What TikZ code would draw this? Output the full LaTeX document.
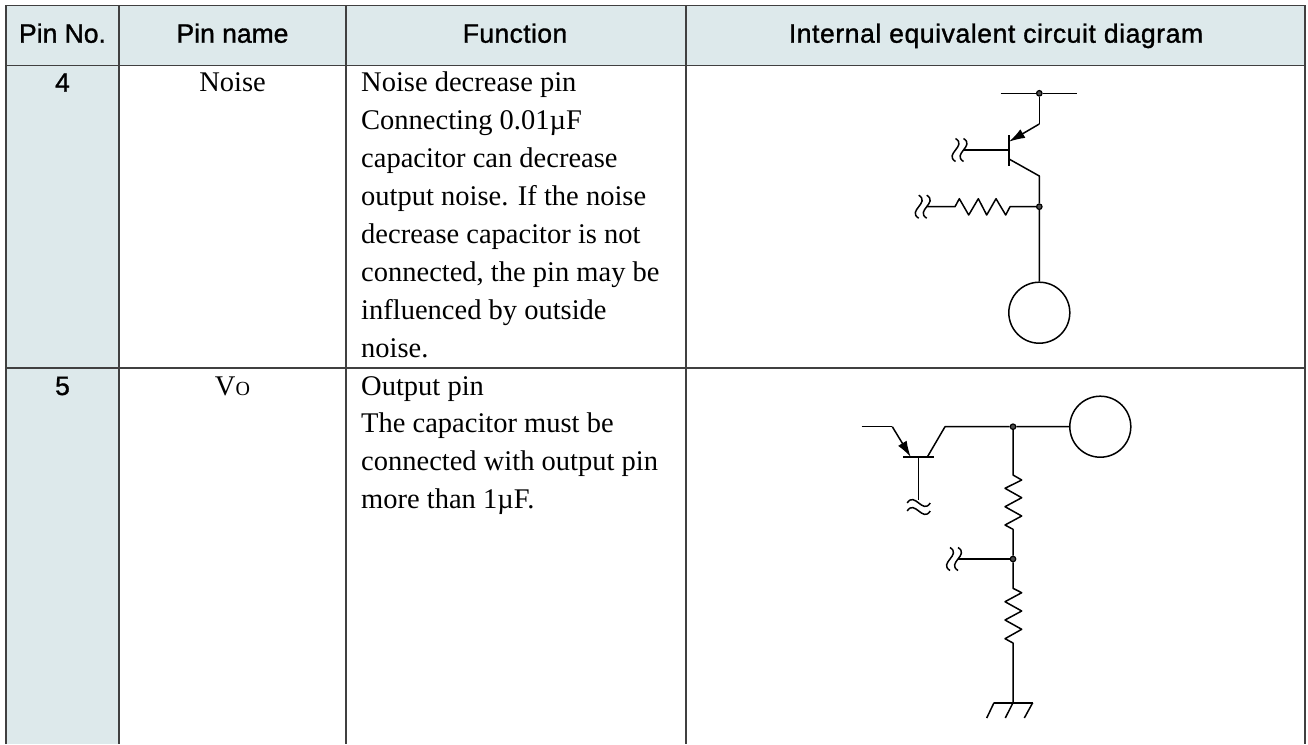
\documentclass[tikz,border=0pt]{standalone}
\usepackage{fontspec}
\setmainfont{Liberation Serif}
\newfontfamily\headfont[FakeBold=1.2]{Liberation Sans}
\usetikzlibrary{arrows.meta}

\tikzset{
	gridline/.style={line width=1.4pt, draw=black!75},
	wire/.style={line width=1.5pt, line join=round},
	headtext/.style={anchor=base, inner sep=0pt, font=\headfont\fontsize{26.5}{30}\selectfont},
	bodytext/.style={anchor=base west, inner sep=0pt, font=\fontsize{28.5}{38}\selectfont},
	nametext/.style={bodytext, anchor=base},
	junction/.style={circle, draw, fill=black!70, line width=1.2pt, inner sep=0pt, minimum size=5.5pt},
	pad/.style={circle, draw, line width=1.5pt, inner sep=0pt, minimum size=61pt},
	wavecut/.pic={
		\draw [wire] (0,-11.5) .. controls (12,-4) and (-12,4) .. (0,11.5);
		\draw [wire] (-8,-11.5) .. controls (4,-4) and (-20,4) .. (-8,11.5);
	}
}

\begin{document}
\begin{tikzpicture}[x=1pt, y=-1pt]
	\useasboundingbox (0,0) rectangle (1308,744);

	% table
	\fill [fill={rgb,255:red,221;green,233;blue,235}] (6,5.5) rectangle (1305,65.5);
	\fill [fill={rgb,255:red,221;green,233;blue,235}] (6,65.5) rectangle (119,744);
	\draw [gridline] (6,744) -- (6,5.5) -- (1305,5.5) -- (1305,744);
	\draw [gridline] (6,65.5) -- (1305,65.5);
	\draw [gridline] (6,367.8) -- (1305,367.8);
	\draw [gridline] (119,5.5) -- (119,744);
	\draw [gridline] (346,5.5) -- (346,744);
	\draw [gridline] (686,5.5) -- (686,744);

	\node [headtext] (headNo) at (62.5,42.7) {Pin No.};
	\node [headtext] (headName) at (232.5,42.7) {Pin name};
	\node [headtext] (headFunc) at (515,42.7) {\addfontfeature{LetterSpace=1.5}Function};
	\node [headtext] (headCircuit) at (996,42.7) {\addfontfeature{LetterSpace=2.2}Internal equivalent circuit diagram};

	\node [headtext] (noA) at (62.5,91.7) {4};
	\node [headtext] (noB) at (62.5,395) {5};
	\node [nametext] (nameA) at (232.5,91.7) {Noise};
	\node [nametext] (nameB) at (232.5,395) {V{\fontsize{20}{20}\selectfont O}};

	\foreach \txt [count=\i from 0] in {Noise decrease pin, Connecting 0.01µF, capacitor can decrease, output noise. If the noise, decrease capacitor is not, {connected, the pin may be}, influenced by outside, noise.}
		\node [bodytext] (funcA\i) at (361,91.7+37.9*\i) {\txt};
	\foreach \txt [count=\i from 0] in {Output pin, The capacitor must be, connected with output pin, more than 1µF.}
		\node [bodytext] (funcB\i) at (361,395+37.9*\i) {\txt};

	% circuit of pin 4
	\coordinate (railL) at (1000.7,93.3);
	\coordinate (railR) at (1077.3,93.3);
	\coordinate (emA) at (1039.3,124);
	\coordinate (emTipA) at (1009,141.7);
	\coordinate (barTopA) at (1009,135);
	\coordinate (barBotA) at (1009,166);
	\coordinate (baseA) at (1009,150);
	\coordinate (cutA) at (963.5,150);
	\coordinate (colStartA) at (1009,159);
	\coordinate (colA) at (1039.3,176);
	\coordinate (cutB) at (926.7,206.7);
	\node [junction] (railDot) at (1039.3,93.3) {};
	\node [junction] (nodeA) at (1039.3,206.7) {};
	\node [pad] (padA) at (1039.3,312.7) {};

	\draw [wire] (railL) -- (railDot) -- (railR);
	\draw [wire] (railDot) -- (emA);
	\draw [wire, -{Latex[length=16pt, width=10pt]}] (emA) -- (emTipA);
	\draw [wire] (barTopA) -- (barBotA);
	\draw [wire] (cutA) -- (baseA);
	\draw [wire] (colStartA) -- (colA) -- (nodeA) -- (padA);
	\draw [wire] (cutB) -- (955,206.7) -- (959.3,198.7) -- (968.7,215) -- (978.3,198.7) -- (986.7,215) -- (996,198.7) -- (1005.7,215) -- (1010,206.7) -- (nodeA);
	\pic at (cutA) {wavecut};
	\pic at (cutB) {wavecut};

	% circuit of pin 5
	\coordinate (leadB) at (861.7,426.7);
	\coordinate (emB) at (892.3,426.7);
	\coordinate (emTipB) at (910.7,457);
	\coordinate (barLB) at (903.3,457);
	\coordinate (barRB) at (934.3,457);
	\coordinate (baseB) at (918.7,457);
	\coordinate (cutC) at (918.7,503);
	\coordinate (colStartB) at (927.3,457);
	\coordinate (colB) at (945,426.7);
	\coordinate (cutD) at (958,559);
	\coordinate (earth) at (1013,702.7);
	\coordinate (earthL) at (994,702.7);
	\coordinate (earthR) at (1032.7,702.7);
	\node [junction] (nodeB) at (1013,426.7) {};
	\node [junction] (nodeC) at (1013,559) {};
	\node [pad] (padB) at (1100.3,426.7) {};

	\draw [wire] (leadB) -- (emB);
	\draw [wire, -{Latex[length=16pt, width=10pt]}] (emB) -- (emTipB);
	\draw [wire] (barLB) -- (barRB);
	\draw [wire] (baseB) -- (918.7,500);
	\draw [wire] (colStartB) -- (colB) -- (nodeB) -- (padB);
	\draw [wire] (nodeB) -- (1013,475) -- (1021.7,480) -- (1005,488.3) -- (1021.7,497.7) -- (1005,506.7) -- (1021.7,516) -- (1005,525) -- (1013,529.3) -- (nodeC);
	\draw [wire] (cutD) -- (nodeC);
	\draw [wire] (nodeC) -- (1013,588.3) -- (1021.7,592.7) -- (1005,601.7) -- (1021.7,611) -- (1005,620) -- (1021.7,629.3) -- (1005,638.7) -- (1013,643) -- (earth);
	\draw [wire, line width=1.8pt] (earthL) -- (earthR);
	\draw [wire] (earthL) -- (986.7,718);
	\draw [wire] (earth) -- (1005.3,718);
	\draw [wire] (earthR) -- (1024.3,718);
	\pic [rotate=90] at (cutC) {wavecut};
	\pic at (cutD) {wavecut};
\end{tikzpicture}
\end{document}
